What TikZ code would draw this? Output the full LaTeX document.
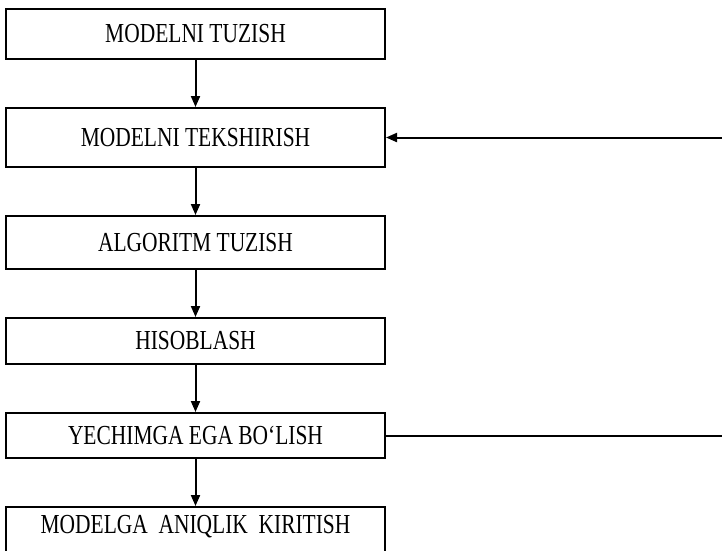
\documentclass[tikz,border=0pt]{standalone}
\usepackage{fontspec}
\setmainfont{Liberation Serif}[FakeStretch=0.78]
\usetikzlibrary{positioning, arrows.meta}

\begin{document}
\begin{tikzpicture}[
    node distance=47pt,
    box/.style={rectangle, draw, line width=2pt, minimum width=379pt, inner sep=0pt, font=\fontsize{27.5}{30}\selectfont},
    arrow/.style={line width=2pt, -{Triangle[length=11pt, width=9pt]}}
]
\clip (0,0) rectangle (722pt,-550pt);

% Nodes
\node[box, minimum height=50pt] (tuzish) at (195.5pt,-34pt) {MODELNI TUZISH};
\node[box, below=of tuzish, minimum height=59pt] (tekshirish) {MODELNI TEKSHIRISH};
\node[box, below=of tekshirish, minimum height=53pt] (algoritm) {ALGORITM TUZISH};
\node[box, below=of algoritm, minimum height=46pt] (hisoblash) {HISOBLASH};
\node[box, below=of hisoblash, minimum height=45pt] (yechim) {YECHIMGA EGA BO‘LISH};
\node[box, below=of yechim, text height=26pt, text depth=24pt] (aniqlik) {MODELGA\ \ ANIQLIK\ \ KIRITISH};

\coordinate (qaytish) at ([xshift=360pt]yechim.east);

% Arrows
\draw[arrow] (tuzish) -- (tekshirish);
\draw[arrow] (tekshirish) -- (algoritm);
\draw[arrow] (algoritm) -- (hisoblash);
\draw[arrow] (hisoblash) -- (yechim);
\draw[arrow] (yechim) -- (aniqlik);
\draw[arrow] (yechim.east) -- (qaytish) |- (tekshirish.east);

\end{tikzpicture}
\end{document}
